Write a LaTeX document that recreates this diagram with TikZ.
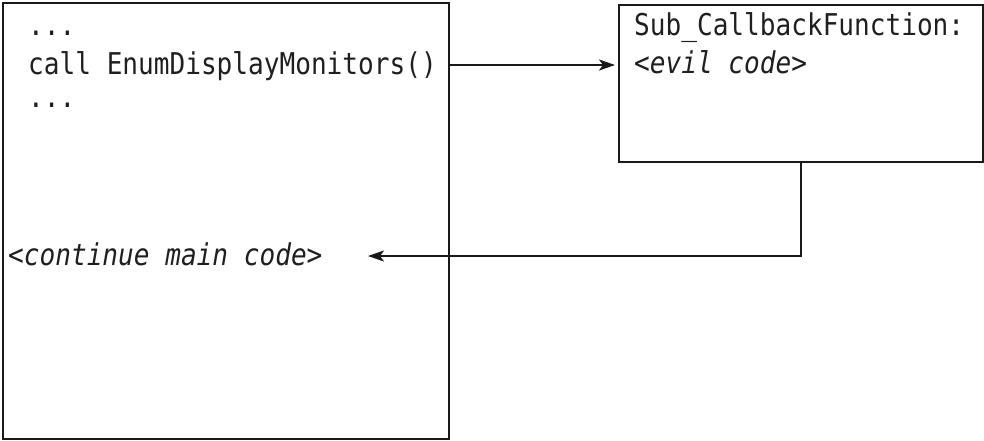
\documentclass[tikz,border=0pt]{standalone}
\usepackage{fontspec}
\setmonofont[FakeStretch=0.87]{DejaVu Sans Mono}
\usetikzlibrary{arrows.meta}
\begin{document}
\begin{tikzpicture}[x=1pt,y=-1pt,
  box/.style={draw=black!90, line width=2.4pt, inner sep=0pt, anchor=north west},
  code/.style={anchor=base west, inner sep=0pt, text=black!88, font=\ttfamily\fontsize{30}{30}\selectfont},
  conn/.style={draw=black!90, line width=2pt, -{Stealth[length=16pt,width=11pt,inset=4pt]}}]
\useasboundingbox (0,0) rectangle (984,440);
\node[box, minimum width=446pt, minimum height=436pt] (main) at (2,2) {};
\node[box, minimum width=364pt, minimum height=157pt] (cb) at (618,4) {};
\node[code] (d1) at (28,35) {...};
\node[code] (call) at (28,74) {call EnumDisplayMonitors()};
\node[code] (d2) at (28,107) {...};
\node[code] (sub) at (634,35) {Sub\_CallbackFunction:};
\node[code] (evil) at (634,73) {\itshape <evil code>};
\node[code] (cont) at (8,265) {\itshape <continue main code>};
\coordinate (y1) at (0,65);
\coordinate (ret) at (368,256);
\draw[conn, shorten >=3pt] (main.east |- y1) -- (cb.west |- y1);
\draw[conn] (cb.south) |- (ret);
\end{tikzpicture}
\end{document}
